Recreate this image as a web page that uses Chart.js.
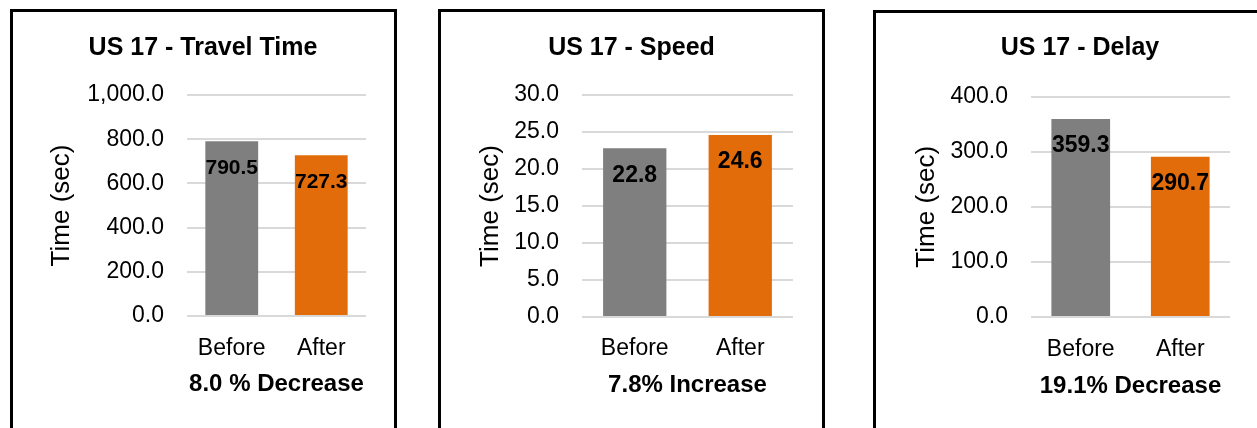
<!DOCTYPE html>
<html>
<head>
<meta charset="utf-8">
<title>US 17 - Before / After</title>
<script src="https://cdn.jsdelivr.net/npm/chart.js@4.4.1/dist/chart.umd.min.js"></script>
<style>
  html, body { margin: 0; padding: 0; background: #fff; width: 1257px; height: 428px; overflow: hidden; position: relative; }
  .panel { position: absolute; border: 3px solid #000; box-sizing: border-box; background: #fff; }
  canvas { position: absolute; }
</style>
</head>
<body>
<div class="panel" style="left:10px;top:9px;width:387px;height:440px"></div>
<div class="panel" style="left:438px;top:9px;width:387px;height:440px"></div>
<div class="panel" style="left:873px;top:10px;width:414px;height:440px"></div>
<canvas id="travelTime" width="380" height="416" style="left:13px;top:12px"></canvas>
<canvas id="speed" width="381" height="416" style="left:441px;top:12px"></canvas>
<canvas id="delay" width="408" height="415" style="left:876px;top:13px"></canvas>
<script>
// Categories and measured values
const categories = ['Before', 'After'];
const travelTimeValues = [790.5, 727.3];
const speedValues = [22.8, 24.6];
const delayValues = [359.3, 290.7];

// Value-axis tick labels for each panel
const travelTimeTicks = [0, 200, 400, 600, 800, 1000];
const speedTicks = [0, 5, 10, 15, 20, 25, 30];
const delayTicks = [0, 100, 200, 300, 400];

// Text
const chartTitles = ['US 17 - Travel Time', 'US 17 - Speed', 'US 17 - Delay'];
const changeNotes = ['8.0 % Decrease', '7.8% Increase', '19.1% Decrease'];
const axisTitle = 'Time (sec)';

const barColors = ['#7F7F7F', '#E36C0A'];
const FONT = '"Liberation Sans", Arial, sans-serif';

const fmt = v => Number(v).toLocaleString('en-US', { minimumFractionDigits: 1, maximumFractionDigits: 1 });

// Draws each bar's value just inside its top end
const valueLabels = {
  id: 'valueLabels',
  afterDatasetsDraw(chart, args, opts) {
    const { ctx } = chart;
    const ds = chart.data.datasets[0];
    const meta = chart.getDatasetMeta(0);
    ctx.save();
    ctx.font = `bold ${opts.size}px ${FONT}`;
    ctx.fillStyle = '#000';
    ctx.textAlign = 'center';
    ctx.textBaseline = 'middle';
    meta.data.forEach((bar, i) => {
      ctx.fillText(fmt(ds.data[i]), bar.x, bar.y + opts.offset);
    });
    ctx.restore();
  }
};

function makeChart(id, values, ticks, title, note, g) {
  return new Chart(document.getElementById(id), {
    type: 'bar',
    data: {
      labels: categories,
      datasets: [{
        data: values,
        backgroundColor: barColors,
        borderWidth: 0,
        barPercentage: g.bar,
        categoryPercentage: 1
      }]
    },
    plugins: [valueLabels],
    options: {
      responsive: false,
      animation: false,
      devicePixelRatio: 1,
      layout: { padding: { left: g.side, right: g.side, top: 0, bottom: 0 } },
      plugins: {
        legend: { display: false },
        tooltip: { enabled: false },
        title: {
          display: true,
          text: title,
          color: '#000',
          font: { family: FONT, size: 25, weight: 'bold', lineHeight: 1.2 },
          padding: { top: g.titleTop, bottom: g.titleBottom }
        },
        valueLabels: { size: g.labelSize, offset: 27 }
      },
      scales: {
        x: {
          grid: { display: false },
          border: { display: false },
          ticks: { color: '#000', font: { family: FONT, size: 23 }, padding: g.xPad, maxRotation: 0, autoSkip: false },
          title: {
            display: true,
            text: note,
            color: '#000',
            font: { family: FONT, size: 24, weight: 'bold', lineHeight: 1.2 },
            padding: { top: 0, bottom: g.notePad }
          },
          afterFit: s => { s.height = g.xHeight; }
        },
        y: {
          min: ticks[0],
          max: ticks[ticks.length - 1],
          grid: { color: '#D9D9D9', lineWidth: 2, drawTicks: false },
          border: { display: false },
          ticks: { color: '#000', font: { family: FONT, size: 23 }, padding: 23, callback: v => fmt(v) },
          afterBuildTicks: s => { s.ticks = ticks.map(v => ({ value: v })); },
          title: {
            display: true,
            text: axisTitle,
            color: '#000',
            font: { family: FONT, size: 26, lineHeight: 1.2 },
            padding: { top: g.yTitlePad, bottom: 0 }
          },
          afterFit: s => { s.width = g.yWidth; }
        }
      }
    }
  });
}

makeChart('travelTime', travelTimeValues, travelTimeTicks, chartTitles[0], changeNotes[0], {
  side: 27, yWidth: 147, yTitlePad: 6, titleTop: 21.5, titleBottom: 31.5,
  xPad: 11, xHeight: 112, notePad: 29, bar: 0.59, labelSize: 21
});
makeChart('speed', speedValues, speedTicks, chartTitles[1], changeNotes[1], {
  side: 29, yWidth: 112, yTitlePad: 5.5, titleTop: 21.5, titleBottom: 31.5,
  xPad: 10, xHeight: 111, notePad: 28, bar: 0.6, labelSize: 23
});
makeChart('delay', delayValues, delayTicks, chartTitles[2], changeNotes[2], {
  side: 54, yWidth: 101, yTitlePad: -18.6, titleTop: 20, titleBottom: 33.5,
  xPad: 11, xHeight: 111, notePad: 27.6, bar: 0.59, labelSize: 23
});
</script>
</body>
</html>
